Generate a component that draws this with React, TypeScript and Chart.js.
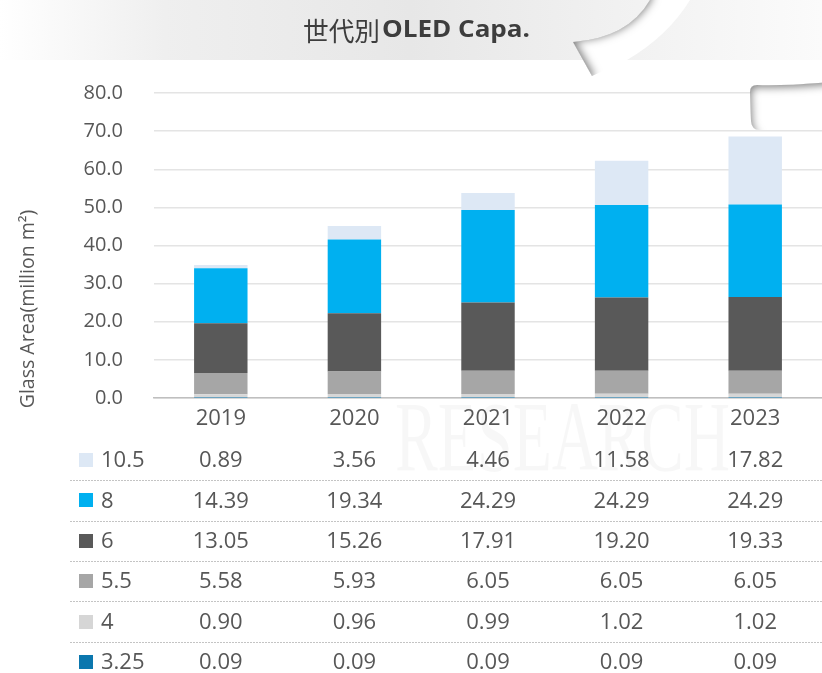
import React, { useEffect, useRef } from 'react';
import { Chart, registerables } from 'chart.js';

Chart.register(...registerables);

// ---------- data ----------
const years = ['2019', '2020', '2021', '2022', '2023'];
const gen325 = [0.09, 0.09, 0.09, 0.09, 0.09];
const gen4 = [0.9, 0.96, 0.99, 1.02, 1.02];
const gen55 = [5.58, 5.93, 6.05, 6.05, 6.05];
const gen6 = [13.05, 15.26, 17.91, 19.2, 19.33];
const gen8 = [14.39, 19.34, 24.29, 24.29, 24.29];
const gen105 = [0.89, 3.56, 4.46, 11.58, 17.82];
const seriesLabels = ['3.25', '4', '5.5', '6', '8', '10.5'];
const seriesData = [gen325, gen4, gen55, gen6, gen8, gen105];
const seriesColors = ['#0B77AE', '#D6D6D6', '#A6A6A6', '#595959', '#00B0F0', '#DDE8F5'];
const yMin = 0;
const yMax = 80;
const yStep = 10;
const titleCJK = '世代別';
const titleLatin = 'OLED Capa.';
const yAxisTitle = 'Glass Area(million m²)';
const watermarkText = 'RESEARCH';

const FONT = '"Open Sans", "Noto Sans", sans-serif';
const TEXT = '#575757';

function arrowShape(ctx: CanvasRenderingContext2D) {
  ctx.beginPath();
  ctx.moveTo(650, 0);
  ctx.quadraticCurveTo(628, 38, 573, 42);
  ctx.lineTo(592, 76);
  ctx.lineTo(627, 60);
  ctx.quadraticCurveTo(668, 36, 690, 0);
  ctx.closePath();
}
function arrowCaster(ctx: CanvasRenderingContext2D) {
  ctx.beginPath();
  ctx.moveTo(650, 0);
  ctx.quadraticCurveTo(628, 38, 573, 42);
  ctx.lineTo(592, 76);
  ctx.lineTo(560, 130);
  ctx.lineTo(470, 130);
  ctx.lineTo(470, -30);
  ctx.lineTo(650, -30);
  ctx.closePath();
}
function tailShape(ctx: CanvasRenderingContext2D) {
  ctx.beginPath();
  ctx.moveTo(830, 82);
  ctx.quadraticCurveTo(785, 86, 757, 85);
  ctx.quadraticCurveTo(750, 85, 750, 92);
  ctx.lineTo(751, 121);
  ctx.quadraticCurveTo(752, 130, 759, 130);
  ctx.lineTo(830, 130);
  ctx.closePath();
}
function tailCaster(ctx: CanvasRenderingContext2D) {
  ctx.beginPath();
  ctx.moveTo(830, 82);
  ctx.quadraticCurveTo(785, 86, 757, 85);
  ctx.quadraticCurveTo(750, 85, 750, 92);
  ctx.lineTo(751, 121);
  ctx.quadraticCurveTo(752, 130, 759, 134);
  ctx.lineTo(700, 150);
  ctx.lineTo(700, 30);
  ctx.lineTo(830, 30);
  ctx.closePath();
}

function fitText(ctx: CanvasRenderingContext2D, text: string, x: number, y: number, width: number) {
  const w = ctx.measureText(text).width;
  ctx.save();
  ctx.translate(x, y);
  ctx.scale(width / w, 1);
  ctx.fillText(text, 0, 0);
  ctx.restore();
}

const decor = {
  id: 'decor',
  beforeDraw(chart: any) {
    const ctx: CanvasRenderingContext2D = chart.ctx;
    const W = chart.width;
    ctx.save();
    ctx.fillStyle = '#ffffff';
    ctx.fillRect(0, 0, W, chart.height);
    // banner
    const g = ctx.createLinearGradient(0, 0, W, 0);
    g.addColorStop(0, '#ffffff');
    g.addColorStop(0.2, '#efefef');
    g.addColorStop(0.5, '#e7e7e7');
    g.addColorStop(0.75, '#f1f1f1');
    g.addColorStop(1, '#fbfbfb');
    ctx.fillStyle = g;
    ctx.fillRect(0, 0, W, 60);
    // title
    ctx.textBaseline = 'middle';
    ctx.textAlign = 'left';
    ctx.fillStyle = '#3d3d3d';
    ctx.font = '400 26px "Noto Sans CJK JP", sans-serif';
    fitText(ctx, titleCJK, 303, 31, 77);
    ctx.font = '700 24px ' + FONT;
    fitText(ctx, titleLatin, 382, 30, 148);
    // y axis title
    ctx.save();
    ctx.translate(28, 309);
    ctx.rotate(-Math.PI / 2);
    ctx.textAlign = 'center';
    ctx.font = '19.5px ' + FONT;
    ctx.fillStyle = TEXT;
    ctx.fillText(yAxisTitle, 0, 0);
    ctx.restore();
    ctx.restore();
  },
  beforeDatasetsDraw(chart: any) {
    const ctx: CanvasRenderingContext2D = chart.ctx;
    ctx.save();
    ctx.font = '100px "Liberation Serif", serif';
    const w = ctx.measureText(watermarkText).width;
    ctx.translate(395, 470);
    ctx.scale(335 / w, 1);
    ctx.fillStyle = 'rgba(0,0,0,0.03)';
    ctx.textBaseline = 'alphabetic';
    ctx.fillText(watermarkText, 0, 0);
    ctx.restore();
  },
  afterDraw(chart: any) {
    const ctx: CanvasRenderingContext2D = chart.ctx;
    // curled arrow decorations
    ctx.save();
    arrowShape(ctx);
    ctx.fillStyle = '#ffffff';
    ctx.fill();
    ctx.clip();
    arrowCaster(ctx);
    ctx.shadowColor = 'rgba(0,0,0,0.5)';
    ctx.shadowBlur = 9;
    ctx.shadowOffsetX = 2;
    ctx.shadowOffsetY = -1;
    ctx.fillStyle = '#bbb';
    ctx.fill();
    ctx.restore();

    ctx.save();
    tailShape(ctx);
    ctx.fillStyle = '#ffffff';
    ctx.fill();
    ctx.clip();
    tailCaster(ctx);
    ctx.shadowColor = 'rgba(0,0,0,0.5)';
    ctx.shadowBlur = 8;
    ctx.shadowOffsetX = 1;
    ctx.shadowOffsetY = 2;
    ctx.fillStyle = '#bbb';
    ctx.fill();
    ctx.restore();

    // data table
    const xs = chart.scales.x;
    ctx.save();
    const rowTop = 460;
    const rowH = 40.4;
    const n = seriesLabels.length;
    ctx.strokeStyle = '#c4c4c4';
    ctx.lineWidth = 1;
    ctx.setLineDash([2, 1]);
    for (let r = 0; r < n - 1; r++) {
      const y = Math.round(rowTop + r * rowH + rowH / 2) + 0.5;
      ctx.beginPath();
      ctx.moveTo(70, y);
      ctx.lineTo(chart.width, y);
      ctx.stroke();
    }
    ctx.setLineDash([]);
    ctx.textBaseline = 'middle';
    ctx.font = '22px ' + FONT;
    for (let r = 0; r < n; r++) {
      const s = n - 1 - r;
      const y = rowTop + r * rowH;
      ctx.fillStyle = seriesColors[s];
      ctx.fillRect(79, Math.round(y - 7), 14, 14);
      ctx.fillStyle = TEXT;
      ctx.textAlign = 'left';
      ctx.fillText(seriesLabels[s], 101, y + 1);
      ctx.textAlign = 'center';
      seriesData[s].forEach((v, i) => {
        ctx.fillText(v.toFixed(2), xs.getPixelForValue(i), y + 1);
      });
    }
    ctx.restore();
  },
};

export default function App() {
  const ref = useRef<HTMLCanvasElement>(null);
  useEffect(() => {
    const canvas = ref.current;
    if (!canvas) return;
    const chart = new Chart(canvas, {
      type: 'bar',
      data: {
        labels: years,
        datasets: seriesLabels.map((lab, i) => ({
          label: lab,
          data: seriesData[i],
          backgroundColor: seriesColors[i],
          borderWidth: 0,
          categoryPercentage: 1,
          barPercentage: 0.4,
        })),
      },
      options: {
        animation: false,
        responsive: false,
        devicePixelRatio: 1,
        layout: { padding: { top: 93, left: 0, right: 0, bottom: 0 } },
        plugins: {
          legend: { display: false },
          tooltip: { enabled: false },
          title: { display: false },
        },
        scales: {
          x: {
            stacked: true,
            grid: { display: false, drawTicks: false },
            border: { color: '#bfbfbf', width: 1.5 },
            ticks: { color: TEXT, font: { family: FONT, size: 22 }, padding: 8 },
            afterFit: (s: any) => {
              s.height = 275;
            },
          },
          y: {
            stacked: true,
            min: yMin,
            max: yMax,
            ticks: {
              stepSize: yStep,
              color: TEXT,
              font: { family: FONT, size: 20 },
              padding: 31,
              callback: (v: any) => Number(v).toFixed(1),
            },
            grid: { color: '#e4e4e4', lineWidth: 1.5, drawTicks: false },
            border: { display: false },
            afterFit: (s: any) => {
              s.width = 154;
            },
          },
        },
      },
      plugins: [decor],
    } as any);
    return () => chart.destroy();
  }, []);
  return (
    <div style={{ position: 'absolute', left: 0, top: 0, width: 822, height: 673, background: '#fff' }}>
      <canvas ref={ref} width={822} height={673} style={{ width: 822, height: 673, display: 'block' }} />
    </div>
  );
}
